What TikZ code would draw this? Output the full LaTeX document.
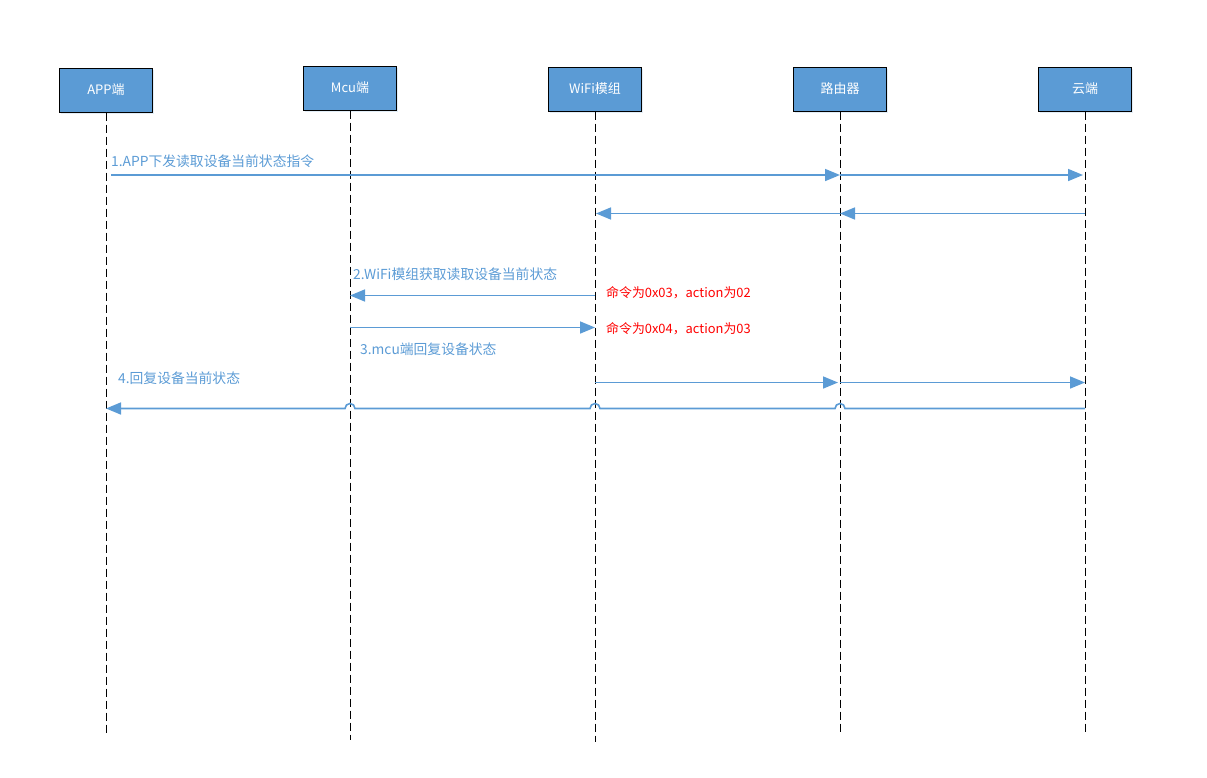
\documentclass[tikz,border=0pt]{standalone}
\usepackage{fontspec}
\setmainfont{Noto Sans CJK SC}
\usetikzlibrary{arrows.meta,shadows}
\definecolor{msgblue}{HTML}{5B9BD5}
\definecolor{boxblue}{HTML}{5B9BD5}
\tikzset{
  actor/.style={draw=black, line width=1pt, fill=boxblue, text=white,
    minimum width=93pt, minimum height=44pt, inner sep=0pt,
    font=\fontsize{13}{15}\selectfont,
    drop shadow={opacity=0.18, shadow xshift=1.5pt, shadow yshift=-2pt, fill=boxblue}},
  lifeline/.style={draw=black, line width=0.9pt, dash pattern=on 8pt off 4pt},
  msg/.style={draw=msgblue, line width=1.6pt,
    -{Triangle[length=15pt,width=12pt]}},
  plainmsg/.style={draw=msgblue, line width=1.6pt},
  msglabel/.style={text=msgblue, anchor=west, inner sep=0pt,
    font=\fontsize{13.8}{16}\selectfont},
  note/.style={text=red, anchor=west, inner sep=0pt,
    font=\fontsize{12.9}{15}\selectfont}
}
\begin{document}
\begin{tikzpicture}[x=1pt,y=-1pt]
\useasboundingbox (0,0) rectangle (1207,777);

% participants
\node[actor] (app)    at (106,90) {APP端};
\node[actor] (mcu)    at (350,88) {Mcu端};
\node[actor] (wifi)   at (595,89) {WiFi模组};
\node[actor] (router) at (840,89) {路由器};
\node[actor] (cloud)  at (1085,89) {云端};

% lifeline ends
\coordinate (append)    at (106,735);
\coordinate (mcuend)    at (350,740);
\coordinate (wifiend)   at (595,742);
\coordinate (routerend) at (840,732);
\coordinate (cloudend)  at (1085,732);

\draw[lifeline] (app.south)    -- (append);
\draw[lifeline] (mcu.south)    -- (mcuend);
\draw[lifeline] (wifi.south)   -- (wifiend);
\draw[lifeline] (router.south) -- (routerend);
\draw[lifeline] (cloud.south)  -- (cloudend);

% message rows
\coordinate (r1) at (0,175);
\coordinate (r2) at (0,213.5);
\coordinate (r3) at (0,295.5);
\coordinate (r4) at (0,327.5);
\coordinate (r5) at (0,382.5);
\coordinate (r6) at (0,408.5);

% 1. request from the app through the router to the cloud
\draw[msg] ([xshift=5pt]app |- r1) -- (router |- r1);
\draw[msg] (router |- r1) -- ([xshift=-2pt]cloud |- r1);
\node[msglabel] (l1) at (111,161) {1.APP下发读取设备当前状态指令};

% cloud back down to the WiFi module
\draw[msg] (cloud |- r2) -- (router |- r2);
\draw[msg] (router |- r2) -- ([xshift=1pt]wifi |- r2);

% 2. WiFi module queries the MCU
\draw[msg] (wifi |- r3) -- (mcu |- r3);
\node[msglabel] (l2) at (353,274) {2.WiFi模组获取读取设备当前状态};
\node[note] (n1) at (606,293) {命令为0x03，action为02};

% 3. MCU replies
\draw[msg] (mcu |- r4) -- (wifi |- r4);
\node[note] (n2) at (606,329) {命令为0x04，action为03};
\node[msglabel] (l3) at (360,349) {3.mcu端回复设备状态};

% WiFi module reports up to the cloud
\draw[msg] (wifi |- r5) -- ([xshift=-2pt]router |- r5);
\draw[msg] (router |- r5) -- (cloud |- r5);

% 4. cloud back to the app, hopping over the lifelines
\draw[plainmsg, -{Triangle[length=15pt,width=12pt]}]
  (cloud |- r6) -- ([xshift=5pt]router |- r6)
  arc[start angle=0, end angle=180, radius=5pt]
  -- ([xshift=5pt]wifi |- r6)
  arc[start angle=0, end angle=180, radius=5pt]
  -- ([xshift=5pt]mcu |- r6)
  arc[start angle=0, end angle=180, radius=5pt]
  -- (app |- r6);
\node[msglabel] (l4) at (118,378) {4.回复设备当前状态};
\end{tikzpicture}
\end{document}
